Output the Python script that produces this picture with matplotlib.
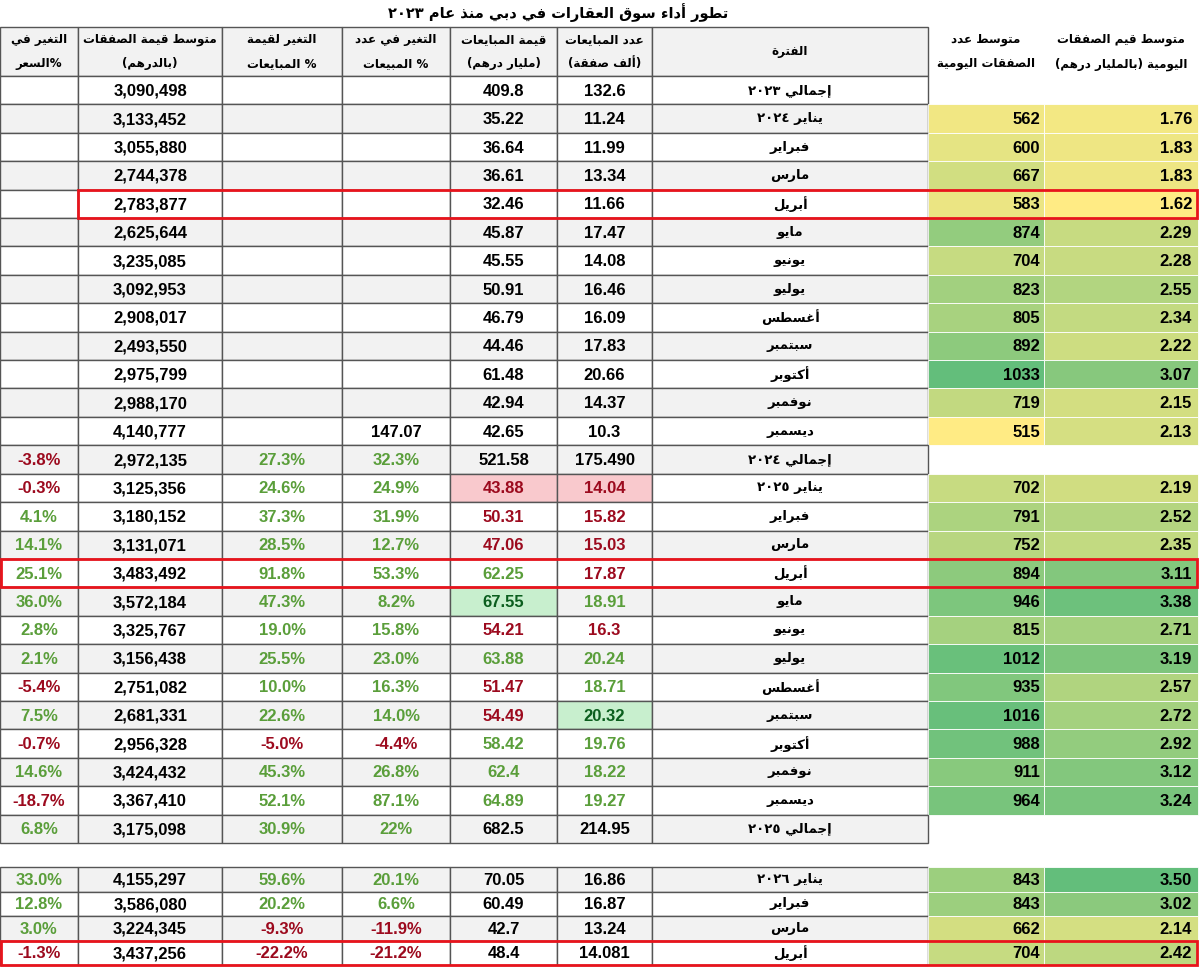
import re
import matplotlib
matplotlib.use("Agg")
import matplotlib.pyplot as plt
from matplotlib.patches import Rectangle

# ---------------- Arabic shaping helper ----------------
DUAL = {'ئ':0xFE89,'ب':0xFE8F,'ت':0xFE95,'ث':0xFE99,'ج':0xFE9D,'ح':0xFEA1,'خ':0xFEA5,
        'س':0xFEB1,'ش':0xFEB5,'ص':0xFEB9,'ض':0xFEBD,'ط':0xFEC1,'ظ':0xFEC5,'ع':0xFEC9,
        'غ':0xFECD,'ف':0xFED1,'ق':0xFED5,'ك':0xFED9,'ل':0xFEDD,'م':0xFEE1,'ن':0xFEE5,
        'ه':0xFEE9,'ي':0xFEF1}
RIGHT = {'آ':0xFE81,'أ':0xFE83,'ؤ':0xFE85,'إ':0xFE87,'ا':0xFE8D,'ة':0xFE93,'د':0xFEA9,
         'ذ':0xFEAB,'ر':0xFEAD,'ز':0xFEAF,'و':0xFEED,'ى':0xFEEF}
NONE = {'ء':0xFE80}
LAMALEF = {'آ':0xFEF5,'أ':0xFEF7,'إ':0xFEF9,'ا':0xFEFB}
MIRROR = {'(':')', ')':'('}

def ar(text):
    units = []
    i = 0
    while i < len(text):
        c = text[i]
        if c == 'ل' and i + 1 < len(text) and text[i+1] in LAMALEF:
            units.append(('R', LAMALEF[text[i+1]])); i += 2; continue
        if c in DUAL: units.append(('D', DUAL[c]))
        elif c in RIGHT: units.append(('R', RIGHT[c]))
        elif c in NONE: units.append(('N', NONE[c]))
        else: units.append(('X', c))
        i += 1
    out = []
    for k, (kind, val) in enumerate(units):
        if kind == 'X':
            out.append(val); continue
        if kind == 'N':
            out.append(chr(val)); continue
        jp = k > 0 and units[k-1][0] == 'D'
        jn = kind == 'D' and k + 1 < len(units) and units[k+1][0] in ('D', 'R')
        if kind == 'D':
            off = 3 if (jp and jn) else 1 if jp else 2 if jn else 0
        else:
            off = 1 if jp else 0
        out.append(chr(val + off))
    shaped = ''.join(out)
    toks = re.findall(r'[0-9\u0660-\u0669.,]+|.', shaped)
    toks = [MIRROR.get(t, t) for t in toks[::-1]]
    return ''.join(toks)

# ---------------- data ----------------
title = "تطور أداء سوق العقارات في دبي منذ عام ٢٠٢٣"
periods = ["إجمالي ٢٠٢٣", "يناير ٢٠٢٤", "فبراير", "مارس", "أبريل", "مايو", "يونيو", "يوليو",
           "أغسطس", "سبتمبر", "أكتوبر", "نوفمبر", "ديسمبر", "إجمالي ٢٠٢٤",
           "يناير ٢٠٢٥", "فبراير", "مارس", "أبريل", "مايو", "يونيو", "يوليو",
           "أغسطس", "سبتمبر", "أكتوبر", "نوفمبر", "ديسمبر", "إجمالي ٢٠٢٥",
           "يناير ٢٠٢٦", "فبراير", "مارس", "أبريل"]
sales_count = ["132.6", "11.24", "11.99", "13.34", "11.66", "17.47", "14.08", "16.46", "16.09", "17.83",
               "20.66", "14.37", "10.3", "175.490", "14.04", "15.82", "15.03", "17.87", "18.91", "16.3",
               "20.24", "18.71", "20.32", "19.76", "18.22", "19.27", "214.95", "16.86", "16.87", "13.24", "14.081"]
sales_value = ["409.8", "35.22", "36.64", "36.61", "32.46", "45.87", "45.55", "50.91", "46.79", "44.46",
               "61.48", "42.94", "42.65", "521.58", "43.88", "50.31", "47.06", "62.25", "67.55", "54.21",
               "63.88", "51.47", "54.49", "58.42", "62.4", "64.89", "682.5", "70.05", "60.49", "42.7", "48.4"]
count_change = [""] * 12 + ["147.07", "32.3%", "24.9%", "31.9%", "12.7%", "53.3%", "8.2%", "15.8%", "23.0%",
                            "16.3%", "14.0%", "-4.4%", "26.8%", "87.1%", "22%", "20.1%", "6.6%", "-11.9%", "-21.2%"]
value_change = [""] * 13 + ["27.3%", "24.6%", "37.3%", "28.5%", "91.8%", "47.3%", "19.0%", "25.5%", "10.0%",
                            "22.6%", "-5.0%", "45.3%", "52.1%", "30.9%", "59.6%", "20.2%", "-9.3%", "-22.2%"]
avg_deal = ["3,090,498", "3,133,452", "3,055,880", "2,744,378", "2,783,877", "2,625,644", "3,235,085",
            "3,092,953", "2,908,017", "2,493,550", "2,975,799", "2,988,170", "4,140,777", "2,972,135",
            "3,125,356", "3,180,152", "3,131,071", "3,483,492", "3,572,184", "3,325,767", "3,156,438",
            "2,751,082", "2,681,331", "2,956,328", "3,424,432", "3,367,410", "3,175,098", "4,155,297",
            "3,586,080", "3,224,345", "3,437,256"]
price_change = [""] * 13 + ["-3.8%", "-0.3%", "4.1%", "14.1%", "25.1%", "36.0%", "2.8%", "2.1%", "-5.4%",
                            "7.5%", "-0.7%", "14.6%", "-18.7%", "6.8%", "33.0%", "12.8%", "3.0%", "-1.3%"]
daily_count = [None, 562, 600, 667, 583, 874, 704, 823, 805, 892, 1033, 719, 515, None,
               702, 791, 752, 894, 946, 815, 1012, 935, 1016, 988, 911, 964, None, 843, 843, 662, 704]
daily_value = [None, 1.76, 1.83, 1.83, 1.62, 2.29, 2.28, 2.55, 2.34, 2.22, 3.07, 2.15, 2.13, None,
               2.19, 2.52, 2.35, 3.11, 3.38, 2.71, 3.19, 2.57, 2.72, 2.92, 3.12, 3.24, None, 3.50, 3.02, 2.14, 2.42]

headers = [("التغير في", "%السعر"), ("متوسط قيمة الصفقات", "(بالدرهم)"), ("التغير لقيمة", "% المبايعات"),
           ("التغير في عدد", "% المبيعات"), ("قيمة المبايعات", "(مليار درهم)"), ("عدد المبايعات", "(ألف صفقة)"),
           ("الفترة", None)]
right_headers = [("متوسط عدد", "الصفقات اليومية"), ("متوسط قيم الصفقات", "اليومية (بالمليار درهم)")]

# ---------------- styling ----------------
GREEN_T = "#5a9e3a"
RED_T = "#9c0a1e"
DKGREEN_T = "#0b5e1e"
GRAY = "#f2f2f2"
LINE = "#555555"
FONT = "Liberation Sans"
AFONT = "DejaVu Sans"

xs = [0, 78, 222, 342, 450, 557, 652, 928]
rx = [928, 1044, 1198]
H_TOP, H_BOT = 27, 76
RH = (843 - 76) / 27
C_TOP, RH2 = 867, 24.5

def row_span(i):
    if i < 27:
        t = H_BOT + i * RH
        return t, t + RH
    t = C_TOP + (i - 27) * RH2
    return t, t + RH2

gray_rows = {1, 3, 5, 7, 9, 11, 13, 16, 18, 20, 22, 24, 26, 27, 29}
red_value_rows = {14, 15, 16, 19, 21, 22}
red_count_rows = {14, 15, 16, 17, 19}

def sign_color(s):
    if not s.endswith('%'):
        return "black"
    return RED_T if s.startswith('-') else GREEN_T

def scale_color(v, lo, hi):
    t = (v - lo) / (hi - lo)
    c0 = (255, 235, 132); c1 = (99, 190, 123)
    return tuple((c0[k] + (c1[k] - c0[k]) * t) / 255 for k in range(3))

fig = plt.figure(figsize=(12, 9.67), dpi=100)
ax = fig.add_axes([0, 0, 1, 1])
ax.set_xlim(0, 1200); ax.set_ylim(967, 0); ax.axis('off')

ax.text(728, 13, ar(title), ha='right', va='center', fontsize=10.5, fontweight='bold', family=AFONT)

HFS = 8.6
for c, (l1, l2) in enumerate(headers):
    x0, x1 = xs[c], xs[c + 1]
    ax.add_patch(Rectangle((x0, H_TOP), x1 - x0, H_BOT - H_TOP, fc=GRAY, ec=LINE, lw=1))
    cx = (x0 + x1) / 2
    if l2 is None:
        ax.text(cx, (H_TOP + H_BOT) / 2, ar(l1), ha='center', va='center', fontsize=HFS, fontweight='bold', family=AFONT)
    else:
        ax.text(cx, 40, ar(l1), ha='center', va='center', fontsize=HFS, fontweight='bold', family=AFONT)
        ax.text(cx, 64, ar(l2), ha='center', va='center', fontsize=HFS, fontweight='bold', family=AFONT)
for c, (l1, l2) in enumerate(right_headers):
    cx = (rx[c] + rx[c + 1]) / 2
    ax.text(cx, 40, ar(l1), ha='center', va='center', fontsize=HFS, fontweight='bold', family=AFONT)
    ax.text(cx, 64, ar(l2), ha='center', va='center', fontsize=HFS, fontweight='bold', family=AFONT)

cmin, cmax = min(v for v in daily_count if v), max(v for v in daily_count if v)
vmin, vmax = min(v for v in daily_value if v), max(v for v in daily_value if v)

for i in range(len(periods)):
    t, b = row_span(i)
    cy = (t + b) / 2
    cols = [price_change[i], avg_deal[i], value_change[i], count_change[i], sales_value[i], sales_count[i]]
    for c in range(7):
        x0, x1 = xs[c], xs[c + 1]
        fc = GRAY if i in gray_rows else "white"
        tc = "black"
        if c < 6:
            s = cols[c]
            tc = sign_color(s)
            if 14 <= i <= 25 and c in (4, 5):
                red_rows = red_value_rows if c == 4 else red_count_rows
                tc = RED_T if i in red_rows else GREEN_T
                if i == 14:
                    fc = "#f9c9cd"
                if (i == 18 and c == 4) or (i == 22 and c == 5):
                    fc = "#c8efce"; tc = DKGREEN_T
        else:
            s = periods[i]
        ax.add_patch(Rectangle((x0, t), x1 - x0, b - t, fc=fc, ec=LINE, lw=1))
        if c == 6:
            ax.text((x0 + x1) / 2, cy, ar(s), ha='center', va='center', fontsize=9.5, fontweight='bold', family=AFONT)
        elif s:
            ax.text((x0 + x1) / 2, cy + 1, s, ha='center', va='center', fontsize=12, fontweight='bold', family=FONT, color=tc)
    if daily_count[i] is not None:
        ax.add_patch(Rectangle((rx[0], t), rx[1] - rx[0], b - t, fc=scale_color(daily_count[i], cmin, cmax), ec='white', lw=0.6))
        ax.add_patch(Rectangle((rx[1], t), rx[2] - rx[1], b - t, fc=scale_color(daily_value[i], vmin, vmax), ec='white', lw=0.6))
        ax.text(rx[1] - 4, cy + 1, f"{daily_count[i]}", ha='right', va='center', fontsize=12, fontweight='bold', family=FONT)
        ax.text(rx[2] - 6, cy + 1, f"{daily_value[i]:.2f}", ha='right', va='center', fontsize=12, fontweight='bold', family=FONT)

for i, x0 in ((4, 78), (17, 1), (30, 1)):
    t, b = row_span(i)
    ax.add_patch(Rectangle((x0, t), 1197 - x0, b - t, fc='none', ec='#e8141c', lw=2, zorder=5))

fig.savefig("out.png", dpi=100)
